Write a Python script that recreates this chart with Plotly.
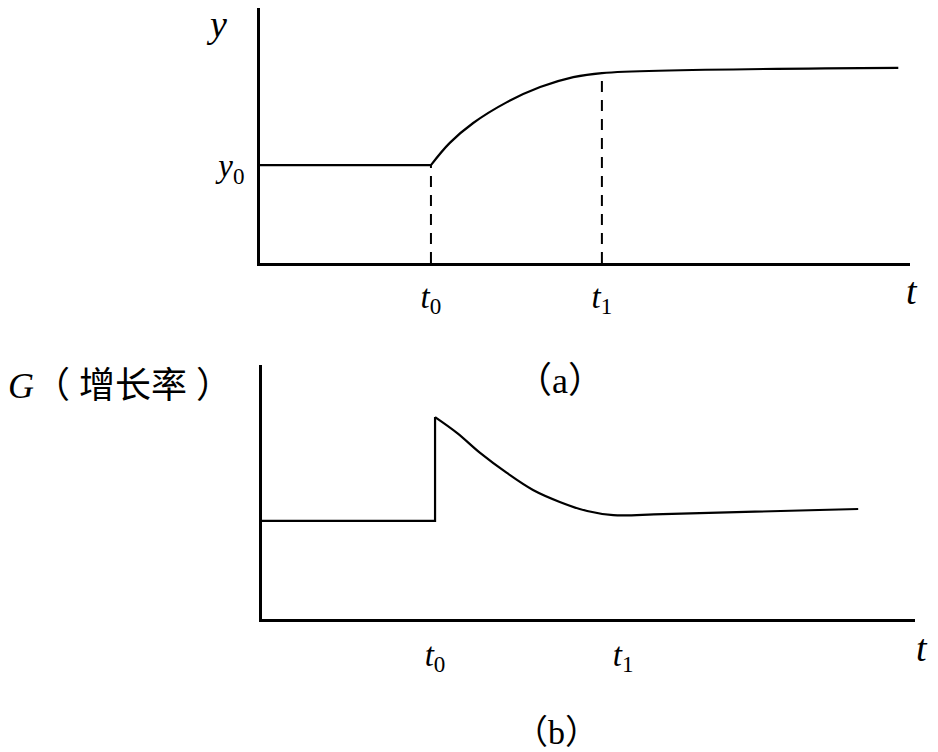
import plotly.graph_objects as go

# (a) output level y over time t
t0_a = 2.63
t1_a = 5.26
y0_a = 3.84
y_t = [0, 2.63, 2.92, 3.28, 3.80, 4.31, 4.82, 5.26, 9.82]
y_v = [3.84, 3.84, 4.71, 5.49, 6.31, 6.90, 7.29, 7.45, 7.65]
y_at_t1 = 7.45

# (b) growth rate G over time t
t0_b = 2.65
t1_b = 5.53
g_t = [0, 2.65, 2.65, 2.99, 3.34, 3.75, 4.15, 4.56, 4.98, 5.38, 6.14, 9.13]
g_v = [3.86, 3.86, 7.95, 7.32, 6.54, 5.75, 5.08, 4.61, 4.25, 4.09, 4.13, 4.33]

serif = "Liberation Serif, Noto Sans CJK SC"
W, H = 938, 752

fig = go.Figure()

def line(xs, ys, xa, ya, shape="linear", dash=None, width=2.2):
    fig.add_trace(go.Scatter(x=xs, y=ys, mode="lines",
                             line=dict(color="black", width=width, shape=shape, dash=dash),
                             xaxis=xa, yaxis=ya, showlegend=False, hoverinfo="skip"))

# (a): flat part, then smooth rise
line(y_t[:2], y_v[:2], "x", "y")
line(y_t[1:], y_v[1:], "x", "y", shape="spline")
# dashed guides in (a)
line([t0_a, t0_a], [0, y0_a], "x", "y", dash="11px,8px", width=2)
line([t1_a, t1_a], [0, y_at_t1], "x", "y", dash="11px,8px", width=2)

# (b): flat part with jump, then smooth decay
line(g_t[:3], g_v[:3], "x2", "y2")
line(g_t[2:], g_v[2:], "x2", "y2", shape="spline")

axis_common = dict(showline=True, linecolor="black", linewidth=2.8, showgrid=False,
                   zeroline=False, ticks="", fixedrange=True,
                   tickfont=dict(family=serif, size=33, color="black"))

def px_x(p):
    return p / W

def px_y(p):
    return 1 - p / H

fig.update_layout(
    width=W, height=H,
    margin=dict(l=0, r=0, t=0, b=0),
    paper_bgcolor="white", plot_bgcolor="white",
    xaxis=dict(axis_common, domain=[px_x(260), px_x(910)], range=[0, 10], anchor="y",
               tickvals=[t0_a, t1_a], ticklabelstandoff=2,
               ticktext=["<i>t</i><sub>0</sub>", "<i>t</i><sub>1</sub>"]),
    yaxis=dict(axis_common, domain=[px_y(263), px_y(8)], range=[0, 10], anchor="x",
               tickvals=[y0_a], ticktext=["<i>y</i><sub>0</sub>"], ticklabelstandoff=6),
    xaxis2=dict(axis_common, domain=[px_x(262), px_x(915)], range=[0, 10], anchor="y2",
                tickvals=[t0_b, t1_b], ticklabelstandoff=4,
                ticktext=["<i>t</i><sub>0</sub>", "<i>t</i><sub>1</sub>"]),
    yaxis2=dict(axis_common, domain=[px_y(619), px_y(365)], range=[0, 10], anchor="x2",
                showticklabels=False),
)

def label(text, x, y, size, xanchor="center"):
    fig.add_annotation(text=text, x=px_x(x), y=px_y(y), xref="paper", yref="paper",
                       showarrow=False, xanchor=xanchor, yanchor="middle",
                       font=dict(family=serif, size=size, color="black"))

label("<i>y</i>", 216, 24, 38)
label("<i>t</i>", 912, 291, 38)
label("（a）", 560, 381, 36)
label("<i>G</i>（ 增长率 ）", 6, 386, 36, xanchor="left")
label("<i>t</i>", 922, 648, 38)
label("（b）", 556, 732, 34)

fig.write_html("out.html", config={"displayModeBar": False},
               post_script="document.body.style.margin='0';")
